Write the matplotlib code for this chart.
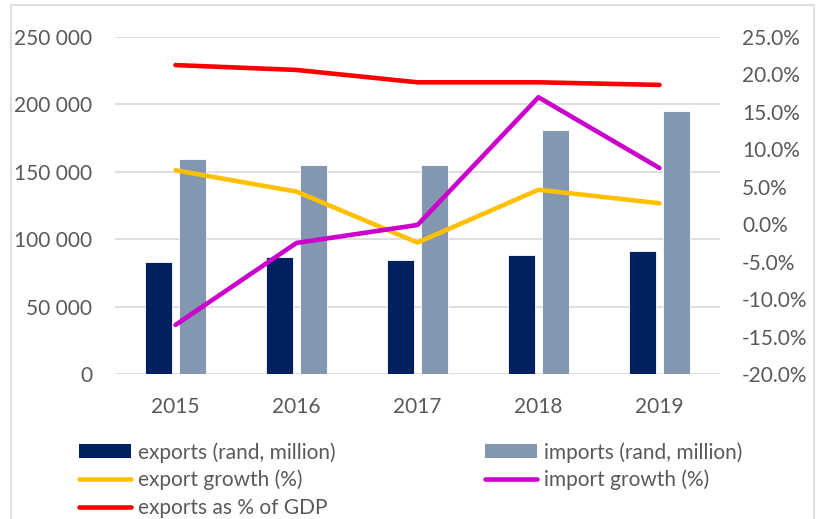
import matplotlib
matplotlib.use("Agg")
import matplotlib.pyplot as plt
from matplotlib.patches import Patch, Rectangle
from matplotlib.lines import Line2D
from matplotlib.ticker import FuncFormatter, MultipleLocator
import numpy as np

years = ["2015", "2016", "2017", "2018", "2019"]
exports = [83300, 87000, 84800, 88500, 91200]
imports = [159300, 155000, 154800, 181000, 194900]
export_growth = [7.2, 4.35, -2.45, 4.6, 2.8]
import_growth = [-13.45, -2.5, -0.1, 16.95, 7.5]
exports_pct_gdp = [21.25, 20.6, 18.95, 18.95, 18.6]

C_EXP = "#002060"
C_IMP = "#8497B0"
C_EG = "#FFC000"
C_IG = "#CC00CC"
C_GDP = "#FF0000"
GRID = "#D9D9D9"
TXT = "#595959"

plt.rcParams["font.family"] = ["Lato", "DejaVu Sans"]

W, H = 827, 519
fig = plt.figure(figsize=(W / 100, H / 100), dpi=100)

# outer chart border
fig.patches.append(Rectangle((10.7 / W, -0.05), (814 - 10.7) / W, 1.05 - 4.7 / H,
                             transform=fig.transFigure, fill=False,
                             edgecolor=GRID, linewidth=1.2))

left, right, top, bottom = 115, 720, 37, 374
ax = fig.add_axes([left / W, 1 - bottom / H, (right - left) / W, (bottom - top) / H])
ax2 = ax.twinx()

x = np.arange(len(years))
bw = 0.223
off = 0.141
ax.bar(x - off, exports, width=bw, color=C_EXP, edgecolor="white", linewidth=0.6, zorder=2)
ax.bar(x + off, imports, width=bw, color=C_IMP, edgecolor="white", linewidth=0.6, zorder=2)

ax.set_xlim(-0.5, len(years) - 0.5)
ax.set_ylim(0, 250000)
ax.yaxis.set_major_locator(MultipleLocator(50000))
ax.yaxis.set_major_formatter(FuncFormatter(lambda v, p: f"{int(v):,}".replace(",", " ")))
ax.grid(axis="y", color=GRID, linewidth=1.2, zorder=0)
ax.set_axisbelow(True)
ax.set_xticks(x)
ax.set_xticklabels(years)

lw = 3.3
ax2.plot(x, exports_pct_gdp, color=C_GDP, lw=lw, solid_capstyle="round", solid_joinstyle="round", zorder=3)
ax2.plot(x, export_growth, color=C_EG, lw=lw, solid_capstyle="round", solid_joinstyle="round", zorder=3)
ax2.plot(x, import_growth, color=C_IG, lw=lw, solid_capstyle="round", solid_joinstyle="round", zorder=3)
ax2.set_ylim(-20, 25)
ax2.yaxis.set_major_locator(MultipleLocator(5))
ax2.yaxis.set_major_formatter(FuncFormatter(lambda v, p: f"{v:.1f}%"))

for a in (ax, ax2):
    for s in a.spines.values():
        s.set_visible(False)
    a.tick_params(length=0, labelsize=15, labelcolor=TXT)
ax.tick_params(axis="y", pad=16.5)
ax.tick_params(axis="x", pad=16.5)
ax2.tick_params(axis="y", pad=16)

fs = 15
common = dict(frameon=False, fontsize=fs, handlelength=2.5, handleheight=0.67,
              handletextpad=0.33, labelspacing=0.35, borderpad=0, borderaxespad=0,
              loc="upper left", labelcolor=TXT)
h1 = [Patch(facecolor=C_EXP),
      Line2D([], [], color=C_EG, lw=lw, solid_capstyle="round"),
      Line2D([], [], color=C_GDP, lw=lw, solid_capstyle="round")]
l1 = ["exports (rand, million)", "export growth (%)", "exports as % of GDP"]
h2 = [Patch(facecolor=C_IMP),
      Line2D([], [], color=C_IG, lw=lw, solid_capstyle="round")]
l2 = ["imports (rand, million)", "import growth (%)"]
leg_top = 1 - 442 / H
fig.legend(h1, l1, bbox_to_anchor=(79 / W, leg_top), **common)
fig.legend(h2, l2, bbox_to_anchor=(485 / W, leg_top), **common)

fig.savefig("out.png", dpi=100)
